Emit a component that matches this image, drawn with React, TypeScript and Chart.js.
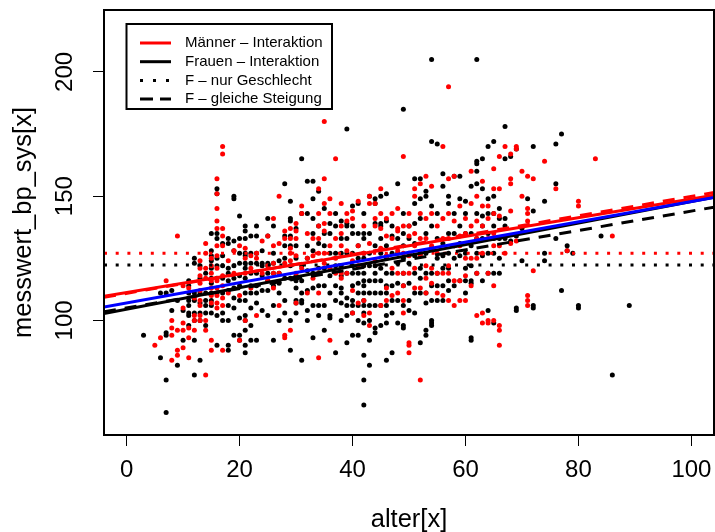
import { useEffect, useRef } from "react";
import { Chart, registerables } from "chart.js";

Chart.register(...registerables);

// ---- axes ----
const xTicks = [0, 20, 40, 60, 80, 100];
const yTicks = [100, 150, 200];
const xLimits = [-4, 104];
const yLimits = [53.9, 224.9];
const xTitle = "alter[x]";
const yTitle = "messwert_bp_sys[x]";

// ---- data: [age, systolic values at that age] ----
const women: [number, number[]][] = [
  [3, [94]], [6, [111, 85]], [7, [111, 95, 94, 76, 63]], [8, [112, 104]], [9, [108, 82]], [10, [104, 92]],
  [11, [116, 114, 111, 108, 106, 103, 102, 98]],
  [12, [125, 123, 111, 108, 103, 100, 92, 78]],
  [13, [122, 117, 111, 107, 103, 100, 84]],
  [14, [119, 111, 108, 106, 103, 98]],
  [15, [135, 128, 126, 124, 121, 117, 115, 111, 108, 106, 103]],
  [16, [153, 151, 135, 133, 125, 122, 117, 111, 102, 90]],
  [17, [131, 126, 122, 117, 111, 103, 100]],
  [18, [133, 131, 121, 119, 116, 112, 106, 100, 90, 88]],
  [19, [150, 149, 132, 128, 122, 117, 113, 109, 105, 94]],
  [20, [142, 133, 127, 123, 118, 114, 108, 101, 94, 92]],
  [21, [138, 136, 133, 127, 126, 123, 121, 117, 111, 108, 102, 100, 96, 90, 87]],
  [22, [134, 127, 123, 119, 114, 111, 105, 98, 92]],
  [23, [138, 134, 127, 123, 119, 114, 111, 107, 92]],
  [24, [128, 123, 122, 118, 112, 104]],
  [25, [141, 134, 123, 122, 119, 116, 112, 102]],
  [26, [138, 127, 123, 119, 114, 106, 92]],
  [27, [124, 119, 115, 111, 100]],
  [28, [155, 134, 130, 125, 117, 108, 103]],
  [29, [148, 141, 140, 134, 130, 122, 117, 100, 88]],
  [30, [137, 130, 125, 118, 116, 113, 108, 107, 103]],
  [31, [165, 143, 122, 116, 111, 108, 107, 84]],
  [32, [156, 143, 130, 125, 120, 112, 104, 100]],
  [33, [156, 149, 141, 135, 128, 119, 113, 106, 93]],
  [34, [152, 138, 131, 121, 114, 106, 102]],
  [35, [145, 135, 130, 121, 114, 106, 96]],
  [36, [139, 135, 127, 118, 111, 102, 101]],
  [37, [143, 138, 127, 122, 114, 108, 87]],
  [38, [140, 133, 127, 122, 118, 113, 111, 107, 100]],
  [39, [177, 139, 138, 133, 127, 119, 109, 106, 102, 91]],
  [40, [146, 138, 135, 127, 122, 119, 114, 108, 106, 103, 94]],
  [41, [147, 135, 130, 125, 119, 115, 111, 106, 100, 94]],
  [42, [143, 135, 133, 127, 125, 122, 119, 116, 114, 111, 108, 106, 103, 99, 86, 76, 66]],
  [43, [150, 135, 127, 122, 116, 111, 106, 100, 92, 82]],
  [44, [149, 147, 139, 130, 122, 119, 116, 111, 106, 97, 95]],
  [45, [150, 139, 138, 133, 127, 121, 116, 111, 106, 98]],
  [46, [151, 140, 130, 125, 119, 114, 111, 106, 102, 99, 84]],
  [47, [138, 134, 127, 119, 114, 108, 103, 87]],
  [48, [155, 133, 127, 123, 115, 108, 99]],
  [49, [185, 143, 135, 130, 125, 119, 114, 106, 98, 97]],
  [50, [138, 133, 127, 123, 115, 108, 104]],
  [51, [157, 147, 139, 131, 126, 119, 111, 103]],
  [52, [157, 149, 141, 127, 121, 117, 111, 91]],
  [53, [152, 150, 135, 127, 119, 111, 107, 96, 94]],
  [54, [205, 172, 146, 138, 129, 119, 114, 108, 100, 99, 98]],
  [55, [171, 143, 133, 125, 119, 114, 108]],
  [56, [159, 154, 131, 126, 121, 114, 108]],
  [57, [150, 147, 135, 127, 121, 116, 112]],
  [58, [158, 143, 135, 130, 125, 114]],
  [59, [158, 149, 138, 131, 126, 116]],
  [60, [148, 143, 135, 127, 121, 116, 111]],
  [61, [154, 135, 130, 122, 116, 115, 93, 92]],
  [62, [205, 164, 163, 160, 155, 143, 133, 127, 119]],
  [63, [165, 153, 142, 138, 133, 126, 116]],
  [64, [170, 149, 143, 135, 127, 119, 104]],
  [65, [172, 150, 143, 138, 133, 127, 119, 99]],
  [66, [145, 141, 133, 125, 119]],
  [67, [178, 165, 141, 138, 133]],
  [68, [166, 132]], [69, [169, 134, 105, 104]], [70, [137, 124]], [71, [149]],
  [72, [170, 144, 106, 105]], [74, [148, 127, 124]], [76, [171, 155, 133]], [77, [175, 112]],
  [78, [130, 128]], [79, [127]], [80, [106, 105]], [84, [134]], [86, [78]], [89, [106]],
];

const men: [number, number[]][] = [
  [5, [90]], [6, [93]], [7, [116]], [8, [100, 97, 94, 84]], [9, [134, 96, 88, 86]],
  [10, [114, 105, 99, 96, 89]],
  [11, [113, 97, 93, 85]],
  [12, [109, 102, 100, 96]],
  [13, [124, 121, 118, 115, 112, 108, 106, 102, 100]],
  [14, [131, 127, 121, 117, 100, 96, 78]],
  [15, [125, 122, 119, 116, 113, 110, 107, 92, 88]],
  [16, [157, 151, 145, 140, 137, 130, 126, 121, 116, 113, 110, 107, 105]],
  [17, [170, 167, 137, 134, 130, 118, 114, 109, 106, 88]],
  [18, [124, 111]], [19, [128, 119]], [20, [130, 110, 92]], [21, [129, 125, 119, 100]],
  [22, [126, 121, 113]], [23, [127, 125, 102]], [24, [132, 119]], [25, [134, 122, 116]],
  [26, [141, 130, 123, 119, 113]],
  [27, [150, 131, 119, 106]],
  [28, [136, 133, 123, 94, 93]],
  [29, [137, 133, 129, 127, 124, 96]],
  [30, [139, 136, 133, 126, 119, 107]],
  [31, [146, 143, 121]], [32, [135, 125, 111]], [33, [133, 126, 117]],
  [34, [153, 143, 138, 133, 127, 119, 111, 85]],
  [35, [180, 157, 147, 139, 136, 127, 123]],
  [36, [149, 143, 130, 121, 92]],
  [37, [165, 133, 125, 119]],
  [38, [147, 138, 135, 130, 119, 117]],
  [39, [143, 140, 128, 119]],
  [40, [144, 141, 124, 112, 103]],
  [41, [148, 130, 122, 107]],
  [42, [138, 127, 108, 102]],
  [43, [150, 147, 131, 103, 98]],
  [44, [147, 141, 138, 124]],
  [45, [153, 143, 137, 129, 106]],
  [46, [141, 134, 126, 113, 108]],
  [47, [143, 133, 121, 110]],
  [48, [145, 137, 136, 128, 119, 111]],
  [49, [166, 138, 127, 119, 114, 108, 103]],
  [50, [143, 138, 134, 126, 119, 91, 90, 87]],
  [51, [153, 150, 135, 130, 121, 113]],
  [52, [155, 143, 133, 126, 113, 76]],
  [53, [158, 141, 133, 122, 117, 111]],
  [54, [154, 143, 130, 121, 115]],
  [55, [138, 127, 119, 111]],
  [56, [170, 141, 133, 119, 110]],
  [57, [194, 157, 143, 133, 122, 119, 108]],
  [58, [158, 140, 130, 116, 106]],
  [59, [146, 134, 130, 116, 108]],
  [60, [141, 135, 125, 118, 108]],
  [61, [160, 147, 138, 125, 114]],
  [62, [150, 140, 133, 125, 119, 102]],
  [63, [156, 146, 138, 127, 103, 99]],
  [64, [146, 141, 133, 119, 100, 99]],
  [65, [161, 153, 143, 135, 130, 114, 100]],
  [66, [166, 153, 142, 130, 98, 96, 90]],
  [67, [170, 127]], [68, [167, 157, 155, 144, 131]], [69, [170, 169, 132]], [70, [160, 150]],
  [71, [158, 145, 143, 140, 110, 108, 106]], [72, [157, 120]], [74, [164]], [76, [153]],
  [78, [128]], [80, [148, 146]], [83, [165]], [86, [134]],
];

// ---- fitted lines: [intercept, slope] ----
const menInteraction = [111.2, 0.377];
const womenInteraction = [104.5, 0.433];
const overallFit = [107.0, 0.408];
const womenSameSlope = [105.0, 0.39];
const menSameSlope = [110.9, 0.39];
const womenSexOnly = [122.3, 0];
const menSexOnly = [127.0, 0];

// ---- legend ----
const legendLabels = [
  "Männer – Interaktion",
  "Frauen – Interaktion",
  "F – nur Geschlecht",
  "F – gleiche Steigung",
];
const legendColors = ["#FF0000", "#000000", "#000000", "#000000"];
const legendDashes = [[], [], [3, 10], [13, 7]];

const FONT = '"Liberation Sans", Arial, Helvetica, sans-serif';

function toPoints(cols: [number, number[]][]) {
  return cols.flatMap(([a, vals]) => vals.map((v) => ({ x: a, y: v })));
}

function lineData(coef: number[]) {
  return xLimits.map((x) => ({ x, y: coef[0] + coef[1] * x }));
}

function lineDataset(coef: number[], color: string, dash: number[], order: number) {
  return {
    type: "line" as const,
    data: lineData(coef),
    borderColor: color,
    borderWidth: 3,
    borderDash: dash,
    borderCapStyle: "butt" as const,
    pointRadius: 0,
    showLine: true,
    fill: false,
    order,
  };
}

function zeroPadding(s: any) {
  s.paddingLeft = 0;
  s.paddingRight = 0;
  s.paddingTop = 0;
  s.paddingBottom = 0;
}

const boxPlugin = {
  id: "rbox",
  afterDatasetsDraw(chart: any) {
    const { ctx, chartArea } = chart;
    ctx.save();
    ctx.strokeStyle = "#000";
    ctx.lineWidth = 2;
    ctx.strokeRect(chartArea.left, chartArea.top, chartArea.right - chartArea.left, chartArea.bottom - chartArea.top);
    ctx.restore();
  },
};

const legendPlugin = {
  id: "rlegend",
  afterDraw(chart: any) {
    const ctx = chart.ctx;
    ctx.save();
    const x0 = 126.5, y0 = 24, w = 205.5, h = 85;
    ctx.fillStyle = "#fff";
    ctx.fillRect(x0, y0, w, h);
    ctx.lineWidth = 2;
    ctx.strokeStyle = "#000";
    ctx.strokeRect(x0, y0, w, h);
    ctx.font = `15px ${FONT}`;
    ctx.textBaseline = "middle";
    ctx.textAlign = "left";
    legendLabels.forEach((label, i) => {
      const y = 43 + i * 18.7;
      ctx.beginPath();
      ctx.setLineDash(legendDashes[i]);
      ctx.strokeStyle = legendColors[i];
      ctx.lineWidth = 3;
      ctx.lineCap = "butt";
      ctx.moveTo(140, y);
      ctx.lineTo(171, y);
      ctx.stroke();
      ctx.setLineDash([]);
      ctx.fillStyle = "#000";
      ctx.fillText(label, 185, y);
    });
    ctx.restore();
  },
};

export default function App() {
  const ref = useRef<HTMLCanvasElement>(null);

  useEffect(() => {
    if (!ref.current) return;
    const chart = new Chart(ref.current, {
      type: "scatter",
      data: {
        datasets: [
          lineDataset(overallFit, "#0000FF", [], 0),
          lineDataset(menSameSlope, "#FF0000", [12, 9], 1),
          lineDataset(menInteraction, "#FF0000", [], 2),
          lineDataset(womenSameSlope, "#000000", [12, 9], 3),
          lineDataset(womenInteraction, "#000000", [], 4),
          lineDataset(menSexOnly, "#FF0000", [3, 8.7], 5),
          lineDataset(womenSexOnly, "#000000", [3, 8.7], 6),
          {
            data: toPoints(men),
            backgroundColor: "#FF0000",
            borderWidth: 0,
            pointRadius: 2.5,
            order: 10,
          },
          {
            data: toPoints(women),
            backgroundColor: "#000000",
            borderWidth: 0,
            pointRadius: 2.5,
            order: 11,
          },
        ] as any,
      },
      options: {
        animation: false,
        responsive: false,
        devicePixelRatio: 1,
        layout: { autoPadding: false, padding: { top: 10, right: 1, left: 0, bottom: 0 } },
        plugins: { legend: { display: false }, tooltip: { enabled: false } },
        events: [],
        scales: {
          x: {
            type: "linear",
            min: xLimits[0],
            max: xLimits[1],
            afterBuildTicks: (s: any) => {
              s.ticks = xTicks.map((v) => ({ value: v }));
            },
            afterFit: (s: any) => {
              s.height = 97;
              zeroPadding(s);
            },
            border: { display: false },
            grid: { drawOnChartArea: false, drawTicks: true, tickLength: 11, color: "#000", lineWidth: 1 },
            ticks: { color: "#000", font: { family: FONT, size: 24 }, padding: 10, maxRotation: 0, autoSkip: false },
            title: { display: true, text: xTitle, color: "#000", font: { family: FONT, size: 25.5 }, padding: { top: 0, bottom: -3 } },
          },
          y: {
            type: "linear",
            min: yLimits[0],
            max: yLimits[1],
            afterBuildTicks: (s: any) => {
              s.ticks = yTicks.map((v) => ({ value: v }));
            },
            afterFit: (s: any) => {
              s.width = 104;
              zeroPadding(s);
            },
            border: { display: false },
            grid: { drawOnChartArea: false, drawTicks: true, tickLength: 11, color: "#000", lineWidth: 1 },
            ticks: {
              color: "#000",
              font: { family: FONT, size: 24 },
              padding: 7.5,
              minRotation: 90,
              maxRotation: 90,
              crossAlign: "center",
              autoSkip: false,
            },
            title: { display: true, text: yTitle, color: "#000", font: { family: FONT, size: 25.5 }, padding: { top: 9, bottom: 0 } },
          },
        },
      },
      plugins: [boxPlugin, legendPlugin],
    });
    return () => chart.destroy();
  }, []);

  return (
    <div style={{ position: "absolute", left: 0, top: 0, width: 715, height: 532, background: "#fff" }}>
      <canvas ref={ref} width={715} height={532} style={{ display: "block" }} />
    </div>
  );
}
